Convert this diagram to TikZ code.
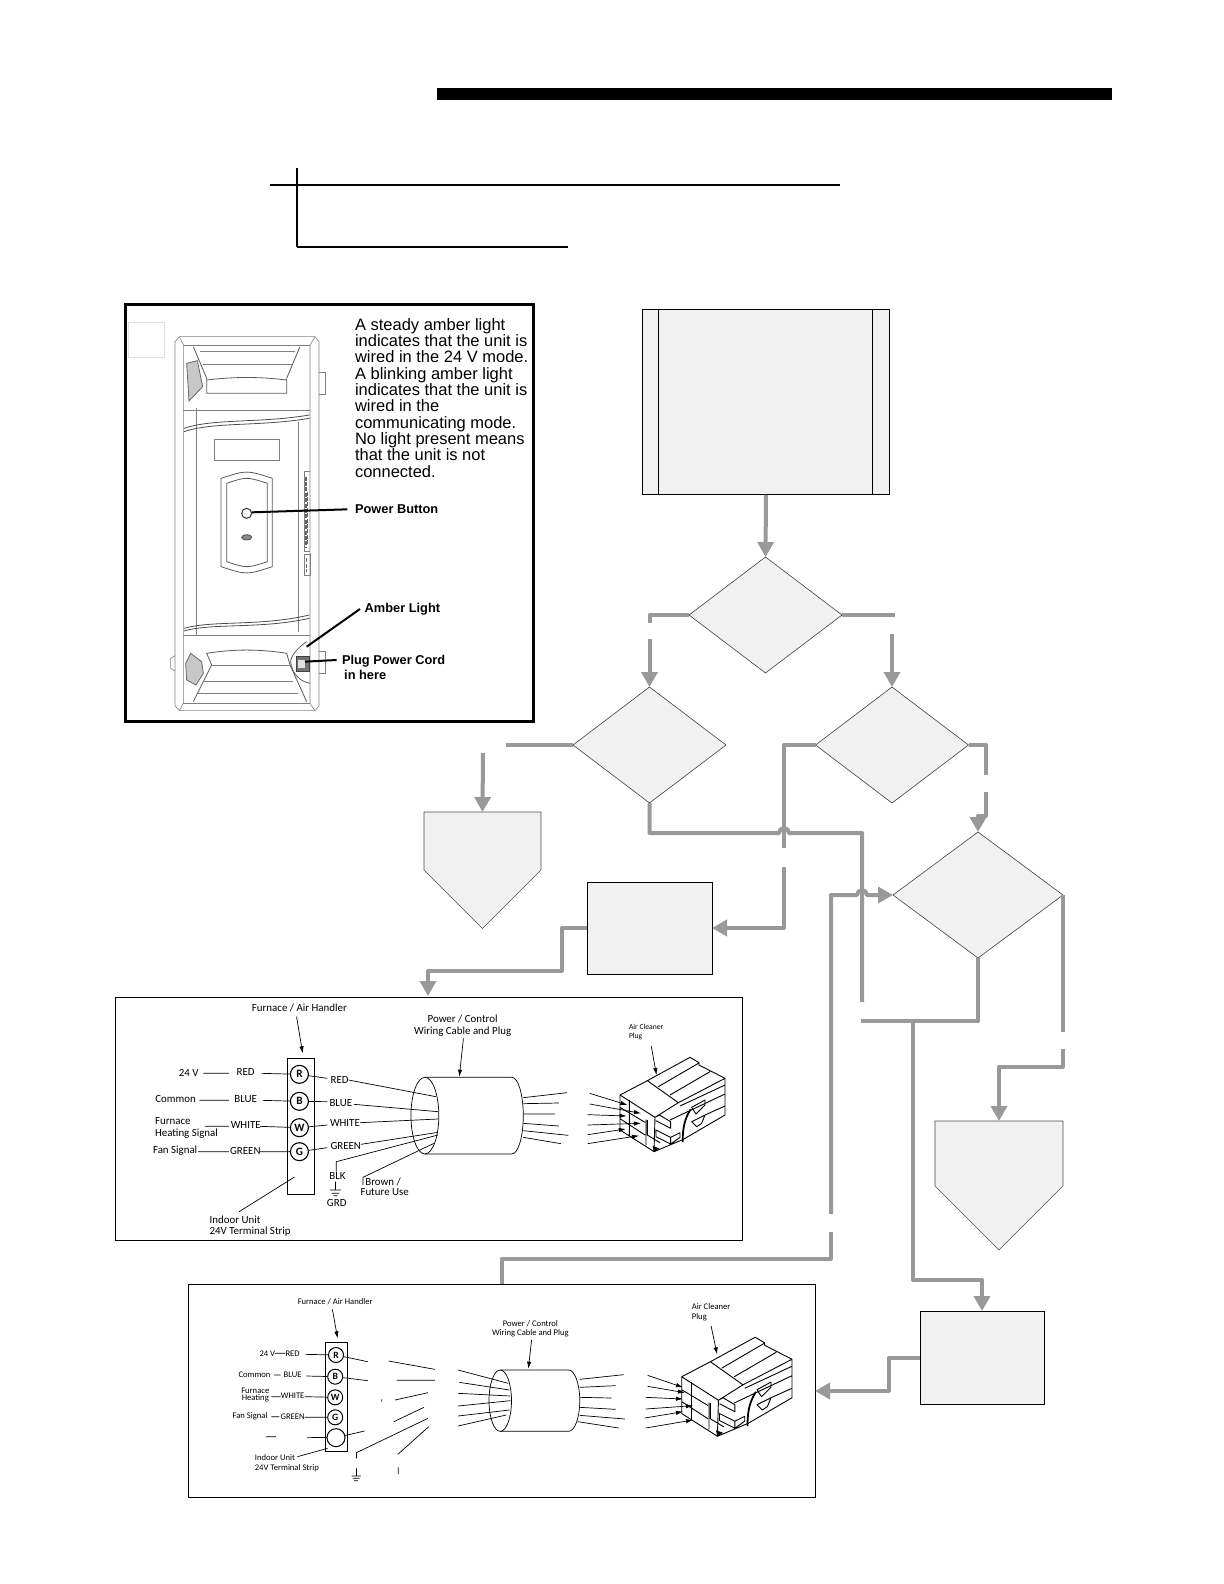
\documentclass[tikz,border=0pt]{standalone}
\usepackage{fontspec}
\setmainfont{Liberation Sans}
\newfontfamily\wirefont{Carlito}
\usetikzlibrary{arrows.meta,shapes.geometric,shapes.symbols}
\definecolor{edgegray}{HTML}{999999}
\definecolor{boxfill}{HTML}{F1F1F1}
\tikzset{
  FrameStyle/.style = {draw=black, line width=.5pt, rectangle, inner sep=0pt, outer sep=0pt},
  ProcessStyle/.style = {FrameStyle, fill=boxfill},
  DecisionStyle/.style = {diamond, draw=black!75, line width=.3pt, fill=boxfill, inner sep=0pt, outer sep=0pt,
                                minimum width=76.5pt, minimum height=58pt},
  EndStyle/.style = {signal, signal to=south, signal pointer angle=90, draw=black!70, line width=.3pt,
                                fill=boxfill, inner sep=0pt, outer sep=0pt},
  EdgeStyle/.style = {edgegray, line width=2pt, line join=round},
  ArrowStyle/.style = {EdgeStyle, -{Triangle[width=8pt,length=7.5pt]}},
  UnitStyle/.style = {black!50, line width=.3pt},
  WireStyle/.style = {black, line width=.35pt},
  WireArrow/.style = {WireStyle, -{Latex[length=3.5pt,width=2.2pt]}},
  PointerStyle/.style = {black, line width=1pt},
  WireText/.style = {font=\wirefont\fontsize{5.45}{6}\selectfont, inner sep=0pt},
  SmallText/.style = {font=\wirefont\fontsize{4.3}{5}\selectfont, inner sep=0pt},
  TinyText/.style = {font=\wirefont\fontsize{3.8}{4}\selectfont, inner sep=0pt},
  BoldText/.style = {font=\fontsize{6.4}{7.6}\selectfont\bfseries, inner sep=0pt, anchor=west, align=left},
  plugpic/.pic = {
    \draw[black, line width=.45pt, line join=round]
      (150,225) -- (150,330) -- (252,395) -- (255,292) -- cycle
      (150,225) -- (232,182) -- (325,248) -- (255,292)
      (232,182) -- (360,112) -- (387,128) -- (387,135) -- (465,175) -- (465,285) -- (340,358) -- (252,395)
      (265,200) -- (385,130)
      (300,225) -- (420,155)
      (325,248) -- (465,175)
      (330,258) -- (465,195)
      (300,300) -- (465,222)
      (405,285) -- (465,258)
      (150,262) -- (225,307)
      (150,296) -- (225,345)
      (178,240) -- (178,350)
      (228,298) -- (228,375)
      (232,300) -- (232,345) -- (270,368)
      (255,292) -- (268,285) -- (302,305) -- (302,325) -- (258,302)
      (258,330) -- (302,352) -- (302,372) -- (258,350) -- cycle
      (302,352) -- (330,338) -- (330,352) -- (302,372)
      (365,262) -- (405,240) -- (405,255) -- (378,282) -- cycle
      (365,305) -- (405,285) -- (395,310) -- (380,320) -- cycle;
    \draw[black, line width=.9pt] (338,366) .. controls (338,320) and (345,295) .. (362,268);
    \fill[black] (248,378) -- (268,385) -- (252,396) -- cycle;
  }
}

\begin{document}
\begin{tikzpicture}[x=.5pt,y=-.5pt]
  \useasboundingbox (0,0) rectangle (1224,1584);

  % heading rules
  \fill[black] (437,88) rectangle (1112,100);
  \draw[black, line width=1pt] (270,185) -- (840,185);
  \draw[black, line width=1pt] (297,247) -- (568,247);
  \draw[black, line width=.75pt] (297,168) -- (297,247);

  % flow chart
  \node (startBox) [ProcessStyle] at (766,402) [minimum width=123.75pt, minimum height=92.75pt] {};
  \draw[FrameStyle] ([xshift=8pt]startBox.north west) -- ([xshift=8pt]startBox.south west);
  \draw[FrameStyle] ([xshift=-8.5pt]startBox.north east) -- ([xshift=-8.5pt]startBox.south east);
  \node (askTop) [DecisionStyle] at (765.5,615) {};
  \node (askLeft) [DecisionStyle] at (649.5,745) {};
  \node (askRight) [DecisionStyle] at (892,745) {};
  \node (askLow) [DecisionStyle, minimum width=85pt, minimum height=63pt] at (978,895) {};
  \node (endLeft) [EndStyle, minimum width=58.5pt, minimum height=29pt] at (482.5,841) {};
  \node (endRight) [EndStyle, minimum width=64pt, minimum height=32.5pt] at (999,1153.5) {};
  \node (boxLeft) [ProcessStyle, minimum width=62.5pt, minimum height=46pt] at (649.5,928) {};
  \node (boxRight) [ProcessStyle, minimum width=62pt, minimum height=46.5pt] at (982,1357.5) {};
  \node (frameOne) [FrameStyle, minimum width=313.5pt, minimum height=121.5pt] at (428.5,1118.5) {};
  \node (frameTwo) [FrameStyle, minimum width=313.5pt, minimum height=106.5pt] at (501.5,1390.5) {};
  \node (framePanel) [FrameStyle, line width=1.5pt, minimum width=204pt, minimum height=208.5pt] at (329,513) {};

  % free ends of the broken connectors
  \coordinate (topLeftEnd) at (649.5,623);
  \coordinate (topLeftGo) at (649.5,639);
  \coordinate (topRightEnd) at (895,615);
  \coordinate (topRightGo) at (892,634);
  \coordinate (leftEnd) at (506,745);
  \coordinate (leftGo) at (483,753);
  \coordinate (midEnd) at (784,848);
  \coordinate (midGo) at (784,867);
  \coordinate (rightEnd) at (986,775);
  \coordinate (rightGo) at (986,792);
  \coordinate (lowEnd) at (1063,1032);
  \coordinate (lowGo) at (1063,1049);
  \coordinate (longEnd) at (862,1002);
  \coordinate (longGo) at (861,1021);
  \coordinate (backEnd) at (831,1232);
  \coordinate (backGo) at (831,1214);
  \coordinate (hopOne) at (784,833);
  \coordinate (hopTwo) at (862,895);

  \draw[ArrowStyle] (startBox.south) -- (askTop.north);
  \draw[EdgeStyle] (askTop.west) -| (topLeftEnd);
  \draw[ArrowStyle] (topLeftGo) -- (askLeft.north);
  \draw[EdgeStyle] (askTop.east) -- (topRightEnd);
  \draw[ArrowStyle] (topRightGo) -- (askRight.north);
  \draw[EdgeStyle] (askLeft.west) -- (leftEnd);
  \draw[ArrowStyle] (leftGo) -- (endLeft.north);
  \draw[EdgeStyle] (askLeft.south) |- ([xshift=-2.5pt]hopOne) arc[start angle=180, end angle=360, radius=5]
    -| (longEnd);
  \draw[EdgeStyle] (askRight.west) -| (midEnd);
  \draw[ArrowStyle] (midGo) |- (boxLeft.east);
  \draw[EdgeStyle] (askRight.east) -| (rightEnd);
  \draw[ArrowStyle] (rightGo) -- (986,816) -- (978,816) -- (askLow.north);
  \draw[EdgeStyle] (askLow.south) |- (longGo);
  \draw[ArrowStyle] (913,1021) -- (913,1280) -| (boxRight.north);
  \draw[EdgeStyle] (askLow.east) -- (lowEnd);
  \draw[ArrowStyle] (lowGo) |- (999,1067) -- (endRight.north);
  \draw[ArrowStyle] (boxLeft.west) -| (562,971) -| (428,996);
  \draw[ArrowStyle] (boxRight.west) -| (889,1391) -- (frameTwo.east |- 889,1391);
  \draw[EdgeStyle] (frameTwo.north) |- (backEnd |- 0,1259) -- (backEnd);
  \draw[ArrowStyle] (backGo) |- ([xshift=-2.5pt]hopTwo) arc[start angle=180, end angle=360, radius=5] -- (askLow.west);

  % unit drawing
  \begin{scope}[shift={(120,295)},scale=1/3]
    \draw[black!12, line width=.3pt] (25,82) rectangle (132,187);
    \draw[UnitStyle] (178,125) -- (585,125) -- (597,140) -- (597,1232) -- (585,1247) -- (178,1247) -- (165,1232) -- (165,140) -- cycle;
    \draw[UnitStyle] (178,125) -- (190,150) -- (190,1225) -- (178,1247) (585,125) -- (570,150) -- (570,1225) -- (585,1247);
    \draw[UnitStyle] (190,150) -- (570,150) (190,1225) -- (570,1225) (190,347) -- (570,347) (190,1022) -- (570,1022);
    \draw[UnitStyle] (230,340) -- (230,1020) (535,380) -- (535,1010);
    \draw[UnitStyle] (597,232) -- (617,232) -- (617,297) -- (597,297) (597,1070) -- (617,1070) -- (617,1135) -- (597,1135);
    \draw[UnitStyle] (165,1082) -- (152,1090) -- (152,1120) -- (165,1128);
    \draw[black!70, line width=.4pt] (192,400) .. controls (280,370) and (420,385) .. (568,360) (192,410) .. controls (280,380) and (420,395) .. (568,370);
    \draw[black!70, line width=.4pt] (192,1000) .. controls (280,975) and (420,995) .. (568,960) (192,1008) .. controls (280,983) and (420,1003) .. (568,970);
    \draw[UnitStyle] (283,432) rectangle (477,497);
    % button plate
    \draw[black!65, line width=.4pt] (303,550) .. controls (380,525) and (380,525) .. (457,550) -- (457,815) .. controls (380,840) and (380,840) .. (303,815) -- cycle;
    \draw[black!65, line width=.4pt] (320,565) .. controls (380,545) and (380,545) .. (442,565) -- (442,800) .. controls (380,820) and (380,820) .. (320,800) -- cycle;
    \draw[black!80, line width=.5pt, fill=white] (380,655) circle[radius=15];
    \draw[black!70, fill=black!45, line width=.4pt] (380,727) ellipse[x radius=15, y radius=8];
    % vents
    \draw[black!65, line width=.4pt] (220,155) -- (260,250) -- (260,295) -- (500,295) -- (500,250) -- (540,155);
    \draw[black!65, line width=.4pt] (260,255) .. controls (340,245) and (420,245) .. (500,255);
    \draw[UnitStyle] (240,170) -- (525,170) (250,208) -- (515,208);
    \draw[black!60, fill=black!22, line width=.4pt] (200,205) -- (232,197) -- (248,275) -- (207,318) -- cycle;
    \draw[black!65, line width=.4pt] (220,1220) -- (275,1110) -- (260,1075) .. controls (340,1062) and (420,1062) .. (500,1075) -- (510,1110) -- (560,1220);
    \draw[UnitStyle] (250,1160) -- (520,1160) (235,1195) -- (535,1195) (275,1110) -- (510,1110);
    \draw[black!60, fill=black!22, line width=.4pt] (197,1105) -- (212,1075) -- (245,1100) -- (250,1135) -- (228,1170) -- (200,1155) -- cycle;
    % socket
    \draw[black!65, line width=.4pt] (560,1040) .. controls (530,1060) and (512,1085) .. (512,1100) .. controls (515,1135) and (540,1160) .. (570,1165);
    \draw[black!75, fill=black!55, line width=.4pt] (528,1085) rectangle (567,1128);
    \fill[black!12] (535,1095) rectangle (556,1118);
    % label plate
    \draw[UnitStyle] (552,530) -- (570,530) (552,530) -- (552,770) -- (570,770) (552,778) rectangle (570,840);
    \draw[black!60, line width=.8pt, dash pattern=on 2pt off .7pt] (558,545) -- (558,760);
    \draw[black!60, line width=.8pt, dash pattern=on 2pt off .7pt] (563,590) -- (563,750);
    \draw[black!60, line width=.8pt, dash pattern=on 2pt off .7pt] (560,790) -- (560,832);
    % pointers
    \coordinate (pointPower) at (682,643);
    \coordinate (pointAmber) at (720,942);
    \coordinate (pointPlug) at (650,1095);
    \draw[PointerStyle] (pointPower) -- (395,652);
    \draw[PointerStyle] (pointAmber) -- (560,1055);
    \draw[PointerStyle] (pointPlug) -- (555,1100);
    \node (panelText) [anchor=north west, inner sep=0pt, align=left, font=\fontsize{8.24}{8.17}\selectfont] at (704,68)
      {A steady amber light\\indicates that the unit is\\wired in the 24 V mode.\\A blinking amber light\\indicates that the unit is\\wired in the\\communicating mode.\\No light present means\\that the unit is not\\connected.};
    \node (panelPower) [BoldText] at (704,643) {Power Button};
    \node (panelAmber) [BoldText] at (733,943) {Amber Light};
    \node (panelPlug) [BoldText] at (665,1118) {Plug Power Cord\\ \,in here};
  \end{scope}

  % first wiring picture
  \begin{scope}[shift={(110,985)},xscale=.41,yscale=1/3]
    \draw[black, line width=.5pt] (432,220) rectangle (498,628);
    \foreach \y/\t [count=\i] in {268/R,349/B,428/W,500/G}
      \node (stripA\i) [draw, ellipse, line width=.55pt, minimum width=9pt, minimum height=9pt, inner sep=0pt, font=\wirefont\bfseries\fontsize{5.6}{6}\selectfont] at (462,\y) {\t};
    \draw[WireStyle]
      (228,265) -- (290,265) (370,265) -- (stripA1)
      (218,346) -- (290,346) (372,346) -- (stripA2)
      (232,424) -- (290,424) (366,424) -- (stripA3)
      (215,500) -- (290,500) (366,500) -- (stripA4)
      (stripA1) -- (530,280) (582,285) -- (795,335)
      (stripA2) -- (530,350) (595,358) -- (800,380)
      (stripA3) -- (530,420) (610,413) -- (800,402)
      (stripA4) -- (530,488) (612,478) -- (800,442)
      (552,560) -- (552,530) -- (800,450)
      (617,600) -- (617,577) -- (790,475)
      (550,590) -- (550,615) (537,615) -- (563,615) (541,625) -- (559,625) (545,632) -- (555,632)
      (315,680) -- (450,576)
      (1008,338) -- (1115,323) (1008,356) -- (1095,354) (1008,387) -- (1085,387)
      (1008,415) -- (1095,423) (1008,437) -- (1118,451) (1008,457) -- (1100,476);
    \draw[WireArrow] (455,95) -- (470,205);
    \draw[WireArrow] (862,160) -- (852,275);
    \draw[WireArrow] (1320,183) -- (1333,270);
    \draw[WireArrow] (1170,325) -- (1262,360);
    \draw[WireArrow] (1170,357) -- (1295,385);
    \draw[WireArrow] (1165,389) -- (1260,393);
    \draw[WireArrow] (1165,420) -- (1295,415);
    \draw[WireArrow] (1165,449) -- (1258,432);
    \draw[WireArrow] (1165,476) -- (1290,452);
    % cable
    \draw[WireStyle] (768,392) ellipse[x radius=34, y radius=115];
    \draw[WireStyle] (768,277) -- (980,277) arc[start angle=-90, end angle=90, x radius=28, y radius=115] -- (768,507);
    \foreach \x/\y/\t [count=\i] in {462/68/{Furnace / Air Handler},860/103/{Power / Control},860/141/{Wiring Cable and Plug},
        192/264/24 V,331/262/RED,160/341/Common,331/343/BLUE,331/421/WHITE,330/497/GREEN,
        560/284/RED,563/353/BLUE,573/414/WHITE,575/483/GREEN,555/573/BLK,553/655/GRD}
      \node (textA\i) [WireText] at (\x,\y) {\t};
    \foreach \x/\y/\t [count=\i] in {109/407/Furnace,109/445/Heating Signal,104/496/Fan Signal,622/592/{Brown /},610/622/Future Use,
        242/705/Indoor Unit,242/740/24V Terminal Strip}
      \node (leftA\i) [WireText, anchor=west] at (\x,\y) {\t};
    \node (plugA) [TinyText, anchor=north west, align=left] at (1265,116) {Air Cleaner\\[.6pt]Plug};
  \end{scope}
  \pic (plugOne) at (570,1020) [scale=1/3] {plugpic};

  % second wiring picture
  \begin{scope}[shift={(185,1270)},xscale=.4016,yscale=1/3]
    \draw[black, line width=.5pt] (350,217) rectangle (405,545);
    \foreach \x/\y/\t [count=\i] in {376/255/R,374/320/B,374/382/W,374/442/G}
      \node (stripB\i) [draw, circle, line width=.5pt, minimum size=7.5pt, inner sep=0pt, font=\wirefont\bfseries\fontsize{4.8}{5}\selectfont] at (\x,\y) {\t};
    \node (stripB5) [draw, circle, line width=.5pt, minimum size=9pt, inner sep=0pt] at (376,503) {};
    \draw[WireStyle]
      (224,250) -- (250,250) (300,253) -- (stripB1)
      (222,315) -- (238,315) (302,318) -- (stripB2)
      (215,380) -- (238,380) (298,380) -- (stripB3)
      (215,440) -- (235,440) (298,442) -- (stripB4)
      (202,500) -- (226,500) (304,502) -- (stripB5)
      (stripB1) -- (455,275) (507,273) -- (622,298) (680,300) -- (805,340)
      (stripB2) -- (455,332) (527,331) -- (622,331) (683,337) -- (808,360)
      (490,388) -- (490,395) (523,390) -- (605,368) (680,370) -- (810,378)
      (520,455) -- (595,412) (680,408) -- (810,392)
      (stripB5) -- (447,483) (680,438) -- (808,420)
      (427,565) -- (427,548) -- (605,445) (680,468) -- (800,435)
      (530,553) -- (607,470) (531,592) -- (531,612)
      (427,595) -- (427,618) (415,618) -- (438,618) (418,625) -- (435,625) (421,632) -- (431,632)
      (280,560) -- (355,535)
      (983,328) -- (1092,314) (983,352) -- (1072,347) (983,382) -- (1062,384)
      (983,412) -- (1072,418) (983,436) -- (1095,447) (978,455) -- (1080,474);
    \draw[WireArrow] (367,118) -- (380,205);
    \draw[WireArrow] (863,210) -- (855,296);
    \draw[WireArrow] (1310,168) -- (1325,253);
    \draw[WireArrow] (1152,316) -- (1240,352);
    \draw[WireArrow] (1152,349) -- (1245,368);
    \draw[WireArrow] (1147,382) -- (1240,387);
    \draw[WireArrow] (1147,417) -- (1265,407);
    \draw[WireArrow] (1145,444) -- (1240,425);
    \draw[WireArrow] (1147,474) -- (1265,450);
    % cable
    \draw[WireStyle] (785,392) ellipse[x radius=28, y radius=92];
    \draw[WireStyle] (785,300) -- (955,300) arc[start angle=-90, end angle=90, x radius=28, y radius=92] -- (785,484);
    \foreach \x/\y/\t [count=\i] in {374/96/{Furnace / Air Handler},860/160/{Power / Control},860/190/{Wiring Cable and Plug},
        205/250/24 V,268/250/RED,173/315/Common,268/315/BLUE,175/362/Furnace,175/386/Heating,268/378/WHITE,162/440/Fan Signal,268/440/GREEN}
      \node (textB\i) [SmallText] at (\x,\y) {\t};
    \node (indoorB) [SmallText, anchor=north west, align=left] at (173,552) {Indoor Unit\\24V Terminal Strip};
    \node (plugB) [SmallText, anchor=north west, align=left] at (1261,100) {Air Cleaner\\Plug};
  \end{scope}
  \pic (plugTwo) at (629.2,1298) [scale=.35] {plugpic};
\end{tikzpicture}
\end{document}
